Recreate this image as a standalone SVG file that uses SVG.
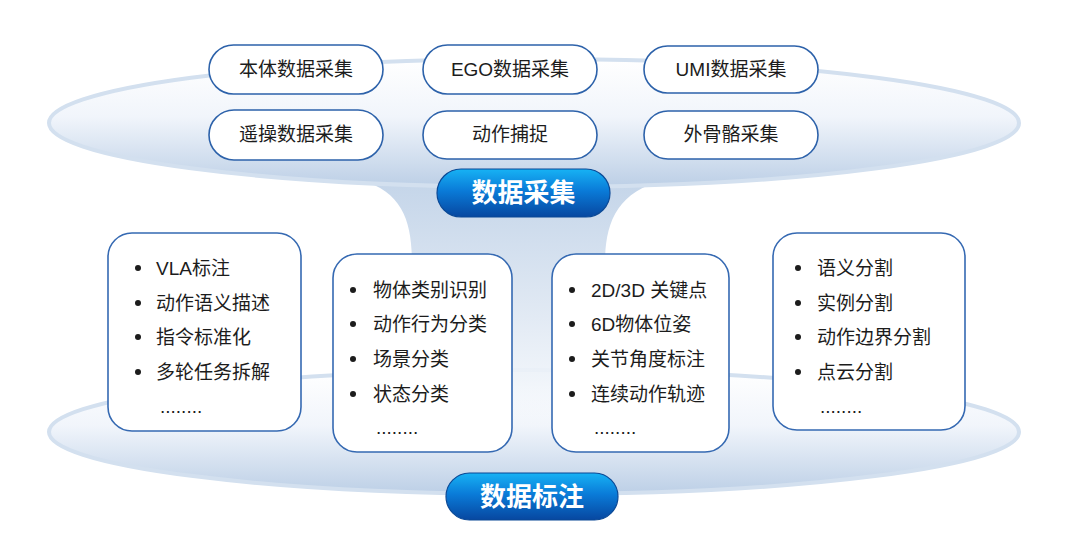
<svg xmlns="http://www.w3.org/2000/svg" width="1080" height="546" viewBox="0 0 1080 546">
<defs>
<linearGradient id="dish" x1="0" y1="0" x2="0" y2="1">
<stop offset="0" stop-color="#ffffff"/>
<stop offset="0.45" stop-color="#f1f5fb"/>
<stop offset="1" stop-color="#bccfe6"/>
</linearGradient>
<linearGradient id="stem" gradientUnits="userSpaceOnUse" x1="0" y1="180" x2="0" y2="430">
<stop offset="0" stop-color="#c4d5e9"/>
<stop offset="0.55" stop-color="#e2eaf4"/>
<stop offset="0.8" stop-color="#eef3f9" stop-opacity="0.9"/>
<stop offset="1" stop-color="#f4f7fb" stop-opacity="0"/>
</linearGradient>
<linearGradient id="btn" x1="0" y1="0" x2="0" y2="1">
<stop offset="0" stop-color="#17b2f4"/>
<stop offset="0.45" stop-color="#0a7bd8"/>
<stop offset="1" stop-color="#0747a0"/>
</linearGradient>
<style>
.dish{fill:url(#dish);stroke:#d3e0ef;stroke-width:4}
.pill{fill:#ffffff;stroke:#2d62aa;stroke-width:1.6}
.box{fill:#ffffff;stroke:#3569b2;stroke-width:1.6}
.btn{fill:url(#btn);stroke:#0b4996;stroke-width:1.2}
.t{font-family:"Liberation Sans","Noto Sans CJK SC",sans-serif;font-size:19px;fill:#1c1c1c}
.c{text-anchor:middle}
.bt{font-family:"Noto Sans CJK SC","Liberation Sans",sans-serif;font-size:26px;font-weight:bold;fill:#ffffff;text-anchor:middle}
.dot{fill:#1c1c1c}
</style>
</defs>
<g id="background">
<ellipse class="dish" cx="534" cy="432" rx="485" ry="62"/>
<path d="M 360 180 C 405 192 412 225 412 265 L 412 430 L 605 430 L 605 265 C 605 225 615 192 665 180 Z" fill="url(#stem)"/>
<ellipse class="dish" cx="534" cy="123" rx="485" ry="64"/>
</g>
<g id="collect-items">
<g id="n-benti"><rect class="pill" x="209" y="45" width="174" height="49" rx="24.5"/><text class="t c" x="296" y="76">本体数据采集</text></g>
<g id="n-ego"><rect class="pill" x="423" y="45" width="174" height="49" rx="24.5"/><text class="t c" x="510" y="76">EGO数据采集</text></g>
<g id="n-umi"><rect class="pill" x="644" y="46" width="174" height="47" rx="23.5"/><text class="t c" x="731" y="76">UMI数据采集</text></g>
<g id="n-yaocao"><rect class="pill" x="209" y="110" width="174" height="50" rx="25"/><text class="t c" x="296" y="141">遥操数据采集</text></g>
<g id="n-mocap"><rect class="pill" x="423" y="111" width="174" height="48" rx="24"/><text class="t c" x="510" y="141">动作捕捉</text></g>
<g id="n-exo"><rect class="pill" x="644" y="111" width="174" height="48" rx="24"/><text class="t c" x="731" y="141">外骨骼采集</text></g>
</g>
<g id="n-collect"><rect class="btn" x="437" y="169" width="173" height="48" rx="24"/><text class="bt" x="523.5" y="202">数据采集</text></g>
<g id="n-box1">
<rect class="box" x="108" y="233" width="193" height="198" rx="24"/>
<circle class="dot" cx="138" cy="268" r="3"/><text class="t" x="156" y="275">VLA标注</text>
<circle class="dot" cx="138" cy="303" r="3"/><text class="t" x="156" y="310">动作语义描述</text>
<circle class="dot" cx="138" cy="337" r="3"/><text class="t" x="156" y="344">指令标准化</text>
<circle class="dot" cx="138" cy="372" r="3"/><text class="t" x="156" y="379">多轮任务拆解</text>
<text class="t" x="160" y="413">........</text>
</g>
<g id="n-box2">
<rect class="box" x="333" y="254" width="179" height="198" rx="24"/>
<circle class="dot" cx="353" cy="290" r="3"/><text class="t" x="373" y="297">物体类别识别</text>
<circle class="dot" cx="353" cy="324" r="3"/><text class="t" x="373" y="331">动作行为分类</text>
<circle class="dot" cx="353" cy="359" r="3"/><text class="t" x="373" y="366">场景分类</text>
<circle class="dot" cx="353" cy="394" r="3"/><text class="t" x="373" y="401">状态分类</text>
<text class="t" x="376" y="434">........</text>
</g>
<g id="n-box3">
<rect class="box" x="552" y="254" width="177" height="198" rx="24"/>
<circle class="dot" cx="572" cy="290" r="3"/><text class="t" x="591" y="297">2D/3D 关键点</text>
<circle class="dot" cx="572" cy="324" r="3"/><text class="t" x="591" y="331">6D物体位姿</text>
<circle class="dot" cx="572" cy="359" r="3"/><text class="t" x="591" y="366">关节角度标注</text>
<circle class="dot" cx="572" cy="394" r="3"/><text class="t" x="591" y="401">连续动作轨迹</text>
<text class="t" x="594" y="434">........</text>
</g>
<g id="n-box4">
<rect class="box" x="773" y="233" width="192" height="197" rx="24"/>
<circle class="dot" cx="798" cy="268" r="3"/><text class="t" x="817" y="275">语义分割</text>
<circle class="dot" cx="798" cy="303" r="3"/><text class="t" x="817" y="310">实例分割</text>
<circle class="dot" cx="798" cy="337" r="3"/><text class="t" x="817" y="344">动作边界分割</text>
<circle class="dot" cx="798" cy="372" r="3"/><text class="t" x="817" y="379">点云分割</text>
<text class="t" x="820" y="413">........</text>
</g>
<g id="n-label"><rect class="btn" x="446" y="473" width="172" height="47" rx="23.5"/><text class="bt" x="532" y="505.5">数据标注</text></g>
<g id="connectors"></g>
</svg>
